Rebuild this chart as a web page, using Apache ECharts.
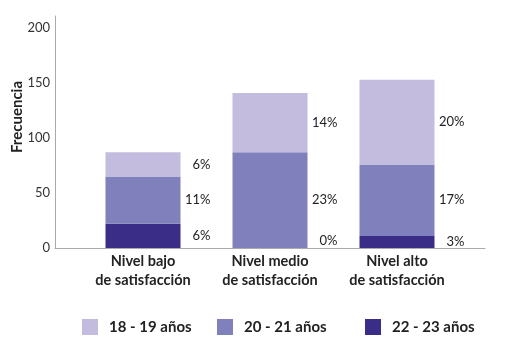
<!DOCTYPE html>
<html><head><meta charset="utf-8">
<script src="https://cdn.jsdelivr.net/npm/echarts@6/dist/echarts.min.js"></script>
<style>html,body{margin:0;padding:0;background:#fff}#c{width:507px;height:352px}</style>
</head><body><div id="c"></div>
<script>
var categories = ['Nivel bajo\nde satisfacción', 'Nivel medio\nde satisfacción', 'Nivel alto\nde satisfacción'];
var seriesNames = ['18 - 19 años', '20 - 21 años', '22 - 23 años'];
var v1819 = [22, 54, 77];
var v2021 = [43, 87, 65];
var v2223 = [22, 0, 11];
var p1819 = ['6%', '14%', '20%'];
var p2021 = ['11%', '23%', '17%'];
var p2223 = ['6%', '0%', '3%'];
var yTicks = [0, 50, 100, 150, 200];

var colors = ['#c3bcdf', '#8080bd', '#392d87'];
var FONT = 'Lato';

function mk(name, vals, pcts, color) {
  return {
    name: name, type: 'bar', stack: 's', xAxisIndex: 0, yAxisIndex: 0,
    barWidth: 75, itemStyle: { color: color },
    data: vals.map(function (v, i) {
      var d = { value: v, label: { formatter: pcts[i] } };
      if (v === 0) d.label.offset = [0, -7];
      return d;
    }),
    label: {
      show: true, position: ['140%', '50%'], align: 'right', verticalAlign: 'middle',
      color: '#222', fontFamily: FONT, fontSize: 13
    },
    emphasis: { disabled: true }
  };
}

var chart = echarts.init(document.getElementById('c'));
chart.setOption({
  animation: false,
  grid: [
    { left: 79.5, right: 46.5, top: 16, bottom: 104, outerBoundsMode: 'none', containLabel: false },
    { left: 55, right: 22, top: 16, bottom: 104, outerBoundsMode: 'none', containLabel: false }
  ],
  legend: seriesNames.map(function (n, i) {
    return {
      data: [n], top: 314, left: [77, 212, 360][i], itemWidth: 16, itemHeight: 16, itemGap: 0,
      icon: 'rect', selectedMode: false,
      textStyle: { fontFamily: FONT, fontWeight: 'bold', fontSize: 15, color: '#222', padding: [0, 0, 0, 6] }
    };
  }),
  xAxis: [
    {
      type: 'category', gridIndex: 0, data: categories,
      axisLine: { show: false }, axisTick: { show: false },
      axisLabel: { interval: 0, hideOverlap: false, fontFamily: FONT, fontWeight: 'bold', fontSize: 14.5, color: '#222', lineHeight: 19, margin: 4 }
    },
    {
      type: 'value', gridIndex: 1, min: 0, max: 1,
      axisLine: { show: true, lineStyle: { color: '#aaa', width: 1 } },
      axisTick: { show: false }, axisLabel: { show: false }, splitLine: { show: false }
    }
  ],
  yAxis: [
    {
      type: 'value', gridIndex: 0, min: 0, max: 211, interval: 50, offset: 24.5,
      name: 'Frecuencia', nameLocation: 'middle', nameGap: 30, nameMoveOverlap: false,
      nameTextStyle: { fontFamily: FONT, fontWeight: 'bold', fontSize: 15, color: '#222', padding: [0, 0, 0, 30] },
      axisLine: { show: true, lineStyle: { color: '#aaa', width: 1 } },
      axisTick: { show: false }, splitLine: { show: false },
      axisLabel: { showMaxLabel: false, fontFamily: FONT, fontSize: 13, color: '#333', margin: 5 }
    },
    { type: 'value', gridIndex: 1, show: false, min: 0, max: 1 }
  ],
  series: [
    mk(seriesNames[2], v2223, p2223, colors[2]),
    mk(seriesNames[1], v2021, p2021, colors[1]),
    mk(seriesNames[0], v1819, p1819, colors[0])
  ]
});
</script></body></html>
